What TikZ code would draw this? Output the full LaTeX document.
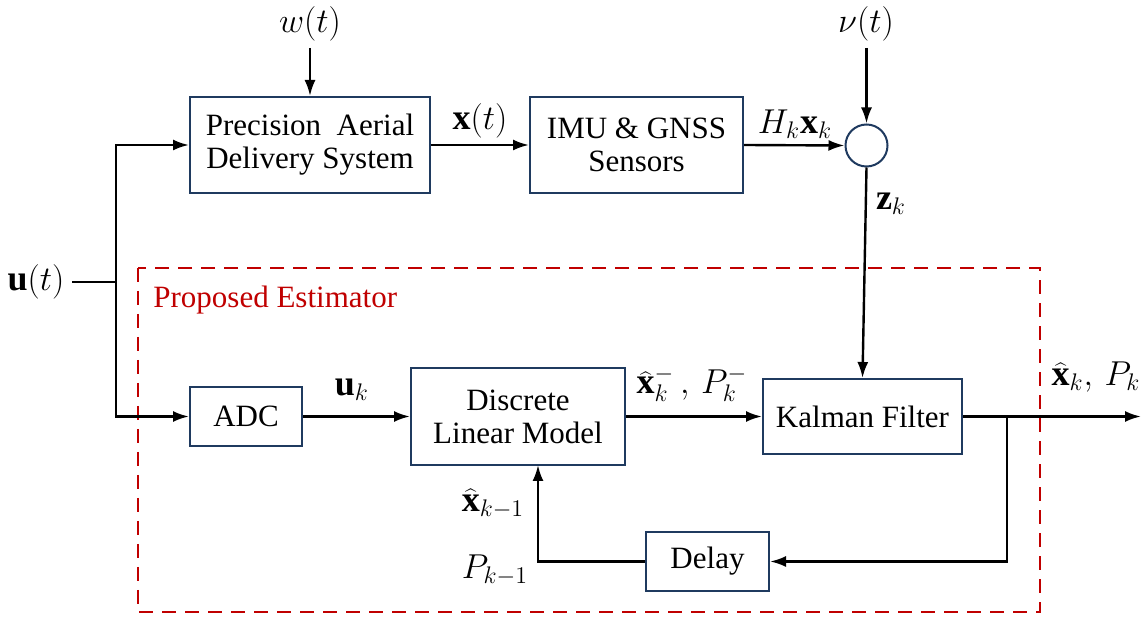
\documentclass[tikz,border=0pt]{standalone}
\usepackage{fontspec}
\setmainfont{Liberation Serif}
\usetikzlibrary{arrows.meta}
\definecolor{boxblue}{HTML}{1F3A5F}
\definecolor{estred}{HTML}{C00000}
\begin{document}
\begin{tikzpicture}[x=0.5pt,y=-0.5pt,
  every node/.style={font=\fontsize{15.5}{16.5}\selectfont},
  blk/.style={draw=boxblue, line width=1pt, inner sep=0pt, align=center},
  arr/.style={-{Latex[length=8pt,width=5.5pt]}, line width=1.2pt},
  ln/.style={line width=1.2pt},
  lbl/.style={inner sep=0pt, font=\fontsize{18}{20}\selectfont}]
\useasboundingbox (0,0) rectangle (1141,619);

% estimator region
\draw[estred, line width=1.4pt, dash pattern=on 7pt off 4.5pt] (138,268) rectangle (1040,612);
\node[inner sep=0pt, anchor=west, text=estred] (est) at (153,300) {Proposed Estimator};

% blocks
\node[blk, minimum width=120pt, minimum height=48pt] (pads) at (310,145) {Precision\ \ Aerial\\Delivery System};
\node[blk, minimum width=106.5pt, minimum height=48pt] (imu) at (636.5,145) {IMU \& GNSS\\Sensors};
\node[draw=boxblue, line width=1pt, circle, minimum size=21pt, inner sep=0pt] (sum) at (866.5,145.5) {};
\node[blk, minimum width=56pt, minimum height=29.5pt] (adc) at (246,416.5) {ADC};
\node[blk, minimum width=107pt, minimum height=48.5pt] (dlm) at (518,416.5) {Discrete\\Linear Model};
\node[blk, minimum width=99.5pt, minimum height=37.5pt] (kf) at (862.5,416.5) {Kalman Filter};
\node[blk, minimum width=61.5pt, minimum height=29.5pt] (delay) at (707.5,561.5) {Delay};

% inputs
\node[lbl] (ut) at (36,282) {$\mathbf{u}(t)$};
\coordinate (j) at (116,282);
\node[lbl] (w) at (310,24) {$w(t)$};
\node[lbl] (nu) at (866,24) {$\nu(t)$};
\coordinate (wtop) at (310,48);
\coordinate (nutop) at (866.5,48);
\coordinate (fb) at (538,465);

\draw[ln] (72,282) -- (j);
\draw[arr] (j) |- (pads.west);
\draw[arr] (j) |- (adc.west);
\draw[arr] (wtop) -- (pads.north);
\draw[arr] (nutop) -- (sum.north);

\draw[arr] (pads.east) -- (imu.west);
\node[lbl] (xt) at (480,121) {$\mathbf{x}(t)$};
\draw[arr] (imu.east) -- (sum.west);
\node[lbl] (hx) at (795,124) {$H_k\mathbf{x}_k$};
\draw[arr] (sum.south) -- (kf.north);
\node[lbl] (zk) at (891,204) {$\mathbf{z}_k$};

\draw[arr] (adc.east) -- (dlm.west);
\node[lbl] (uk) at (352,390) {$\mathbf{u}_k$};
\draw[arr] (dlm.east) -- (kf.west);
\node[lbl] (xm) at (692,384) {$\widehat{\mathbf{x}}_k^-\,,\,P_k^-$};

\coordinate (out) at (1141,416.5);
\coordinate (b) at (1007,416.5);
\draw[arr] (kf.east) -- (out);
\node[lbl] (xk) at (1096,377) {$\widehat{\mathbf{x}}_k,\,P_k$};
\draw[arr] (b) |- (delay.east);
\draw[arr] (delay.west) -| (fb);
\node[lbl] (xkm) at (493,504) {$\widehat{\mathbf{x}}_{k-1}$};
\node[lbl] (pkm) at (495,570) {$P_{k-1}$};
\end{tikzpicture}
\end{document}
